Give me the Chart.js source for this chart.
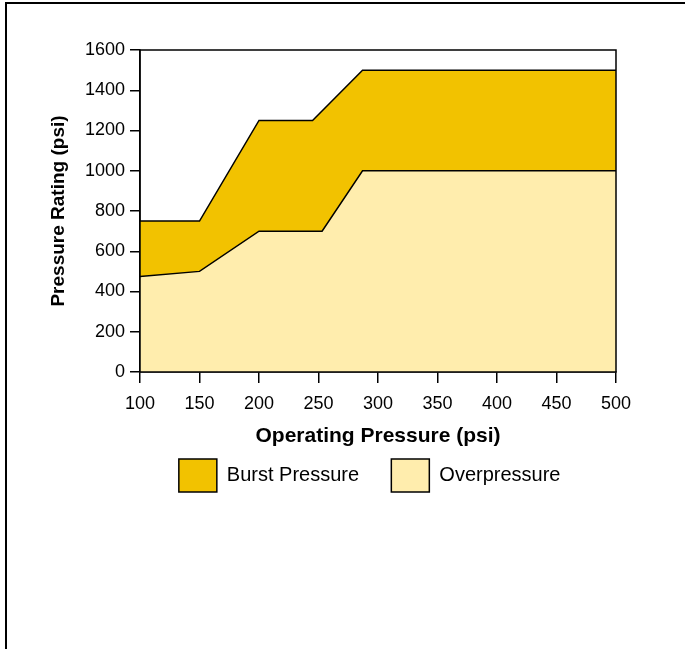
<!DOCTYPE html>
<html lang="en">
<head>
  <meta charset="UTF-8">
  <title>Pressure Rating vs Operating Pressure</title>
  <style>
    body {
      margin: 0;
      background: #fff;
      overflow: hidden;
      font-family: "Liberation Sans", Arial, sans-serif;
    }
    .frame {
      position: absolute;
      left: 5px;
      top: 2px;
      width: 720px;
      height: 700px;
      border-left: 2px solid #000;
      border-top: 2px solid #000;
    }
    .chart-box {
      position: absolute;
      left: 0;
      top: 0;
      width: 685px;
      height: 649px;
    }
  </style>
</head>
<body>
  <div class="frame"></div>
  <div class="chart-box">
    <canvas id="pressureChart"></canvas>
  </div>

  <script src="https://cdn.jsdelivr.net/npm/chart.js"></script>
  <script>
    // values
    const burstX = [100, 150, 200, 245, 287, 500];
    const burstY = [750, 750, 1250, 1250, 1500, 1500];
    const overX = [100, 150, 200, 253, 287, 500];
    const overY = [475, 500, 700, 700, 1000, 1000];
    const seriesNames = ['Burst Pressure', 'Overpressure'];
    const xTicks = [100, 150, 200, 250, 300, 350, 400, 450, 500];
    const yTicks = [0, 200, 400, 600, 800, 1000, 1200, 1400, 1600];

    const toPoints = (xs, ys) => xs.map((x, i) => ({x: x, y: ys[i]}));

    const fontName = "'Liberation Sans', Arial, sans-serif";

    // closes the plot box on top and right
    const frameBox = {
      id: 'frameBox',
      afterDatasetsDraw(chart) {
        const a = chart.chartArea;
        const ctx = chart.ctx;
        ctx.save();
        ctx.strokeStyle = '#000';
        ctx.lineWidth = 1.5;
        ctx.strokeRect(a.left, a.top, a.right - a.left, a.bottom - a.top);
        ctx.restore();
      }
    };

    const ctx = document.getElementById('pressureChart').getContext('2d');
    new Chart(ctx, {
      type: 'line',
      data: {
        datasets: [{
          label: seriesNames[0],
          data: toPoints(burstX, burstY),
          backgroundColor: '#F2C200',
          borderColor: '#000',
          borderWidth: 1.5,
          fill: 'origin',
          pointRadius: 0,
          tension: 0,
          order: 2
        }, {
          label: seriesNames[1],
          data: toPoints(overX, overY),
          backgroundColor: '#FFEDAD',
          borderColor: '#000',
          borderWidth: 1.5,
          fill: 'origin',
          pointRadius: 0,
          tension: 0,
          order: 1
        }]
      },
      options: {
        responsive: true,
        maintainAspectRatio: false,
        animation: false,
        layout: {
          padding: {top: 50, left: 46, right: 69, bottom: 147}
        },
        plugins: {
          tooltip: {enabled: false},
          legend: {
            position: 'bottom',
            fullSize: false,
            labels: {
              color: '#000',
              font: {family: fontName, size: 20},
              boxWidth: 38,
              boxHeight: 33,
              padding: 10,
              generateLabels(chart) {
                const items = Chart.defaults.plugins.legend.labels.generateLabels(chart);
                items.sort((a, b) => a.datasetIndex - b.datasetIndex);
                // extra room between the two entries, like the original
                items[0].text = items[0].text + '    ';
                items[1].text = items[1].text + '   ';
                return items;
              }
            }
          }
        },
        scales: {
          x: {
            type: 'linear',
            min: 100,
            max: 500,
            afterFit(scale) { scale.height = 77; },
            afterBuildTicks(scale) { scale.ticks = xTicks.map(v => ({value: v})); },
            ticks: {
              color: '#000',
              font: {family: fontName, size: 18},
              padding: 10,
              maxRotation: 0,
              callback: v => String(v)
            },
            grid: {
              drawOnChartArea: false,
              drawTicks: true,
              tickLength: 11,
              color: '#000',
              lineWidth: 1.5
            },
            border: {color: '#000', width: 1.5},
            title: {
              display: true,
              text: 'Operating Pressure (psi)',
              color: '#000',
              font: {family: fontName, size: 21, weight: 'bold'},
              padding: {top: 0, bottom: 0}
            }
          },
          y: {
            min: 0,
            max: 1600,
            afterFit(scale) { scale.width = 94; },
            afterBuildTicks(scale) { scale.ticks = yTicks.map(v => ({value: v})); },
            ticks: {
              color: '#000',
              font: {family: fontName, size: 18},
              padding: 5,
              callback: v => String(v)
            },
            grid: {
              drawOnChartArea: false,
              drawTicks: true,
              tickLength: 10,
              color: '#000',
              lineWidth: 1.5
            },
            border: {color: '#000', width: 1.5},
            title: {
              display: true,
              text: 'Pressure Rating (psi)',
              color: '#000',
              font: {family: fontName, size: 19, weight: 'bold'},
              padding: {top: 1, bottom: 0}
            }
          }
        }
      },
      plugins: [frameBox]
    });
  </script>
</body>
</html>
